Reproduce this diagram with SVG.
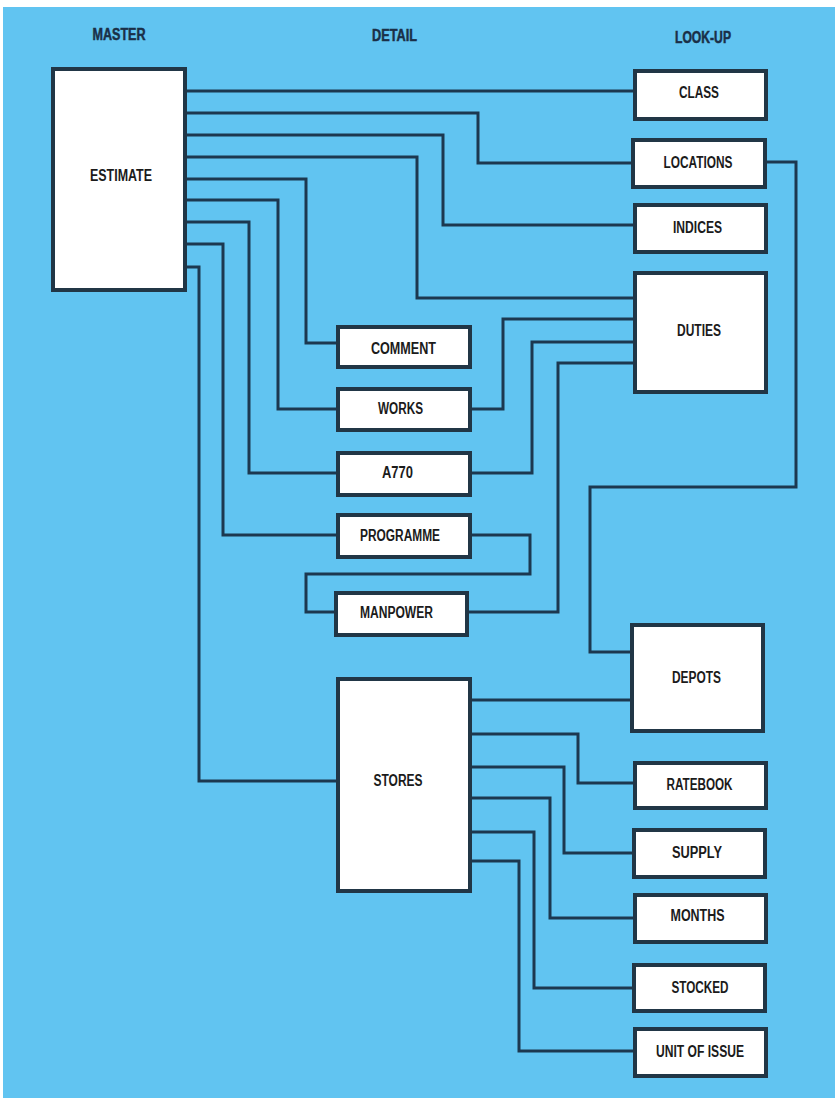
<svg xmlns="http://www.w3.org/2000/svg" width="835" height="1098" viewBox="0 0 835 1098">
  <defs>
    <style>
      .bg { fill: #61c4f1; }
      .box { fill: #ffffff; stroke: #213646; stroke-width: 4; }
      .lbl { font-family: "Liberation Sans", Arial, sans-serif; font-weight: bold; font-size: 16px; fill: #1b1b1b; text-anchor: middle; }
      .hdr { font-family: "Liberation Sans", Arial, sans-serif; font-weight: bold; font-size: 16px; fill: #1a2f47; stroke: #1a2f47; stroke-width: 0.5; text-anchor: middle; }
      .wire { fill: none; stroke: #1c3850; stroke-width: 3; stroke-linejoin: miter; stroke-linecap: butt; }
    </style>
  </defs>

  <!-- page -->
  <rect x="0" y="0" width="835" height="1098" fill="#ffffff"/>
  <rect class="bg" x="3" y="7" width="832" height="1091"/>

  <!-- column headings -->
  <g id="headings">
    <text class="hdr" x="119" y="39.5" textLength="53" lengthAdjust="spacingAndGlyphs">MASTER</text>
    <text class="hdr" x="394.5" y="41" textLength="45" lengthAdjust="spacingAndGlyphs">DETAIL</text>
    <text class="hdr" x="703" y="42.5" textLength="56" lengthAdjust="spacingAndGlyphs">LOOK-UP</text>
  </g>

  <!-- connectors -->
  <g id="connectors">
    <path class="wire" d="M185,91 H635"/>
    <path class="wire" d="M185,113 H478 V163 H633"/>
    <path class="wire" d="M185,135 H443 V225 H635"/>
    <path class="wire" d="M185,157 H417 V298 H635"/>
    <path class="wire" d="M185,179 H306 V343 H338"/>
    <path class="wire" d="M185,200 H278 V409 H338"/>
    <path class="wire" d="M185,222 H249 V473 H338"/>
    <path class="wire" d="M185,244 H223 V535 H338"/>
    <path class="wire" d="M185,267 H199 V781 H338"/>
    <path class="wire" d="M470,409 H503 V319 H635"/>
    <path class="wire" d="M470,473 H532 V342 H635"/>
    <path class="wire" d="M467,612 H558 V363 H635"/>
    <path class="wire" d="M470,535 H530 V574 H306 V612 H336"/>
    <path class="wire" d="M765,162 H796 V487 H590 V652 H632"/>
    <path class="wire" d="M470,700 H632"/>
    <path class="wire" d="M470,734 H578 V783 H635"/>
    <path class="wire" d="M470,767 H564 V853 H634"/>
    <path class="wire" d="M470,798 H550 V918 H635"/>
    <path class="wire" d="M470,832 H534 V988 H634"/>
    <path class="wire" d="M470,861 H519 V1051 H635"/>
  </g>

  <!-- master -->
  <g id="estimate">
    <rect class="box" x="53" y="69" width="132" height="221"/>
    <text class="lbl" x="121" y="181" textLength="62" lengthAdjust="spacingAndGlyphs">ESTIMATE</text>
  </g>

  <!-- detail -->
  <g id="comment">
    <rect class="box" x="338" y="327" width="132" height="40"/>
    <text class="lbl" x="403.5" y="354" textLength="65" lengthAdjust="spacingAndGlyphs">COMMENT</text>
  </g>
  <g id="works">
    <rect class="box" x="338" y="389" width="132" height="41"/>
    <text class="lbl" x="400.5" y="414" textLength="45" lengthAdjust="spacingAndGlyphs">WORKS</text>
  </g>
  <g id="a770">
    <rect class="box" x="338" y="453" width="132" height="42"/>
    <text class="lbl" x="397.5" y="478" textLength="31" lengthAdjust="spacingAndGlyphs">A770</text>
  </g>
  <g id="programme">
    <rect class="box" x="338" y="515" width="132" height="42"/>
    <text class="lbl" x="400" y="541" textLength="80" lengthAdjust="spacingAndGlyphs">PROGRAMME</text>
  </g>
  <g id="manpower">
    <rect class="box" x="336" y="593" width="131" height="42"/>
    <text class="lbl" x="396.5" y="618" textLength="73" lengthAdjust="spacingAndGlyphs">MANPOWER</text>
  </g>
  <g id="stores">
    <rect class="box" x="338" y="679" width="132" height="212"/>
    <text class="lbl" x="398" y="786" textLength="49" lengthAdjust="spacingAndGlyphs">STORES</text>
  </g>

  <!-- look-up -->
  <g id="class">
    <rect class="box" x="635" y="71" width="131" height="48"/>
    <text class="lbl" x="699" y="98" textLength="40" lengthAdjust="spacingAndGlyphs">CLASS</text>
  </g>
  <g id="locations">
    <rect class="box" x="633" y="140" width="132" height="47"/>
    <text class="lbl" x="698" y="168" textLength="69" lengthAdjust="spacingAndGlyphs">LOCATIONS</text>
  </g>
  <g id="indices">
    <rect class="box" x="635" y="205" width="131" height="47"/>
    <text class="lbl" x="697.5" y="233" textLength="49" lengthAdjust="spacingAndGlyphs">INDICES</text>
  </g>
  <g id="duties">
    <rect class="box" x="635" y="273" width="131" height="119"/>
    <text class="lbl" x="699" y="336" textLength="44" lengthAdjust="spacingAndGlyphs">DUTIES</text>
  </g>
  <g id="depots">
    <rect class="box" x="632" y="625" width="131" height="106"/>
    <text class="lbl" x="696.5" y="683" textLength="49" lengthAdjust="spacingAndGlyphs">DEPOTS</text>
  </g>
  <g id="ratebook">
    <rect class="box" x="635" y="763" width="131" height="45"/>
    <text class="lbl" x="699.5" y="790" textLength="66" lengthAdjust="spacingAndGlyphs">RATEBOOK</text>
  </g>
  <g id="supply">
    <rect class="box" x="634" y="830" width="131" height="47"/>
    <text class="lbl" x="697" y="858" textLength="50" lengthAdjust="spacingAndGlyphs">SUPPLY</text>
  </g>
  <g id="months">
    <rect class="box" x="635" y="895" width="131" height="47"/>
    <text class="lbl" x="697.5" y="921" textLength="54" lengthAdjust="spacingAndGlyphs">MONTHS</text>
  </g>
  <g id="stocked">
    <rect class="box" x="634" y="965" width="131" height="46"/>
    <text class="lbl" x="700" y="993" textLength="57" lengthAdjust="spacingAndGlyphs">STOCKED</text>
  </g>
  <g id="unit-of-issue">
    <rect class="box" x="635" y="1029" width="131" height="47"/>
    <text class="lbl" x="700" y="1057" textLength="88" lengthAdjust="spacingAndGlyphs">UNIT OF ISSUE</text>
  </g>
</svg>
